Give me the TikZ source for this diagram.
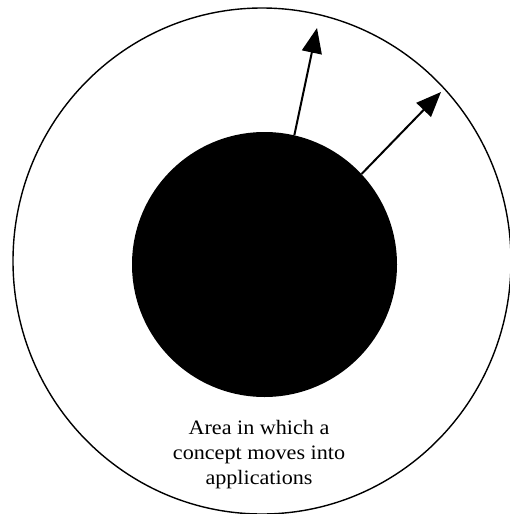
\documentclass[tikz,border=0pt]{standalone}
\usepackage{fontspec}
\setmainfont{Liberation Serif}[FakeStretch=1.08]
\usetikzlibrary{arrows.meta}
\begin{document}
\begin{tikzpicture}[x=1pt,y=-1pt,
  outerring/.style={draw=black,line width=1.4pt,ellipse,inner sep=0pt},
  core/.style={circle,fill=black,inner sep=0pt,minimum size=265pt},
  moveout/.style={line width=2pt,-{Triangle[length=25pt,width=20pt]}},
  label/.style={align=center,font=\fontsize{20.5}{25}\selectfont}]
\useasboundingbox (0,0) rectangle (510,514);
\draw[line width=1.4pt] (262,261) ellipse [x radius=249, y radius=253];
\node[core] (c) at (264.5,264.5) {};
\coordinate (t1) at (317,28);
\coordinate (t2) at (441,92);
\draw[moveout] (c.77.6) -- (t1);
\draw[moveout] (c.43.5) -- (t2);
\node[label,anchor=base] (txt) at (259,484) {Area in which a\\concept moves into\\applications};
\end{tikzpicture}
\end{document}
